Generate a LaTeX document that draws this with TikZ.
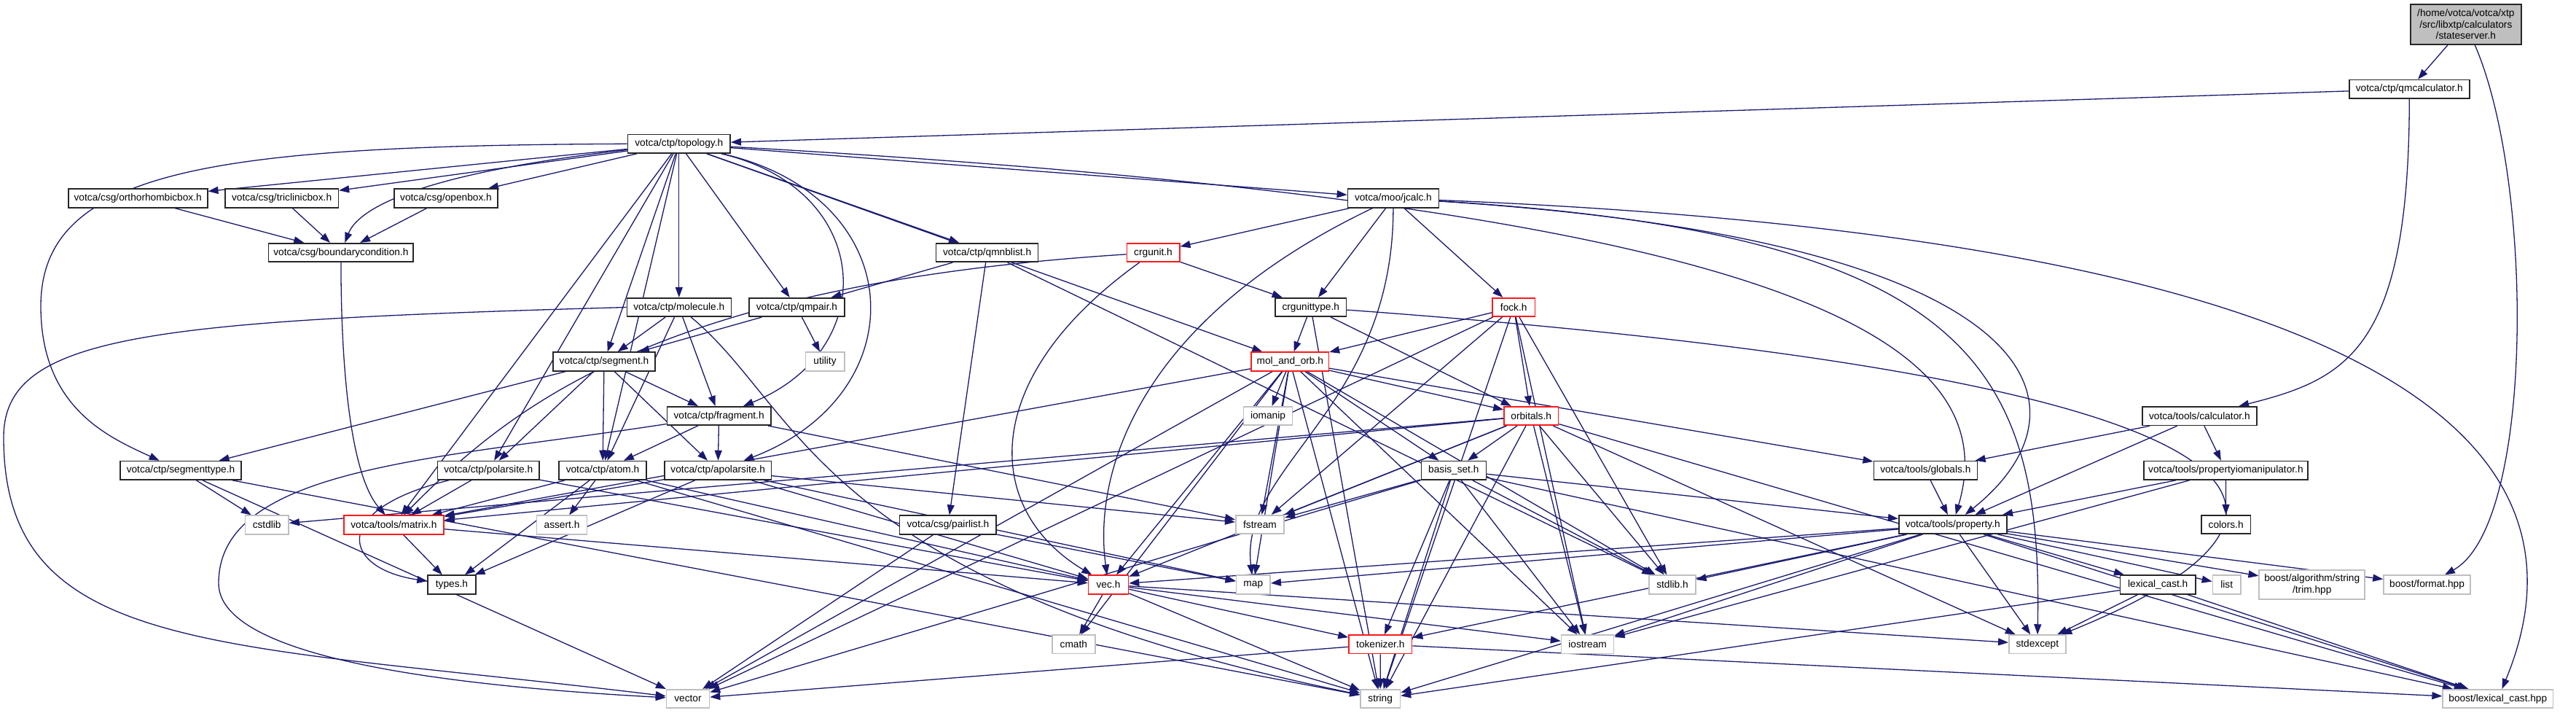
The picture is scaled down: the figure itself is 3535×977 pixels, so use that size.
\documentclass[tikz,border=0pt]{standalone}
\usepackage{fontspec}
\setmainfont{Liberation Sans}
\usetikzlibrary{arrows.meta}
\pgfdeclarelayer{back}
\pgfsetlayers{back,main}

\begin{document}
\begin{tikzpicture}[x=1pt, y=-1pt, >={Stealth[length=14pt,width=10pt,inset=0pt]},
    font=\fontsize{13.7}{15.5}\selectfont,
    hdr/.style={draw=black!85, line width=1.6pt, fill=white, minimum height=25.5pt, inner sep=0pt, minimum width=#1, align=center},
    redhdr/.style={hdr=#1, draw=red!90},
    syshdr/.style={hdr=#1, draw=black!25},
    link/.style={->, draw=linkblue, line width=1.3pt}]
        \definecolor{linkblue}{HTML}{191970}

        \useasboundingbox (0,0) rectangle (3535,977);

        \node[hdr=152pt, minimum height=55pt, fill=black!25] (ss) at (3383.8,33.2) {/home/votca/votca/xtp\\/src/libxtp/calculators\\/stateserver.h};
        \node[hdr=165pt] (qmcalc) at (3306.3,122.3) {votca/ctp/qmcalculator.h};
        \node[hdr=140.6pt] (topo) at (931.8,197.3) {votca/ctp/topology.h};
        \node[hdr=191pt] (ortho) at (189.2,272) {votca/csg/orthorhombicbox.h};
        \node[hdr=155.6pt] (tricl) at (386.6,272) {votca/csg/triclinicbox.h};
        \node[hdr=142.3pt] (openbox) at (612,272) {votca/csg/openbox.h};
        \node[hdr=125pt] (jcalc) at (1911.9,272) {votca/moo/jcalc.h};
        \node[hdr=198.7pt] (bcond) at (467.9,346.5) {votca/csg/boundarycondition.h};
        \node[hdr=140pt] (nblist) at (1354.6,346.5) {votca/ctp/qmnblist.h};
        \node[redhdr=72.4pt] (crgunit) at (1582.5,346.5) {crgunit.h};
        \node[hdr=143pt] (molecule) at (931.8,421.5) {votca/ctp/molecule.h};
        \node[hdr=130.8pt] (qmpair) at (1093.4,421.5) {votca/ctp/qmpair.h};
        \node[hdr=97.5pt] (crgtype) at (1798.7,421.5) {crgunittype.h};
        \node[redhdr=58.5pt] (fock) at (2077.2,421.5) {fock.h};
        \node[hdr=140pt] (segment) at (829,496) {votca/ctp/segment.h};
        \node[syshdr=53.4pt] (utility) at (1132,496) {utility};
        \node[redhdr=106.2pt] (molorb) at (1770.3,496) {mol\_and\_orb.h};
        \node[hdr=142.4pt] (fragment) at (986.6,570.5) {votca/ctp/fragment.h};
        \node[syshdr=67.2pt] (iomanip) at (1740,570.5) {iomanip};
        \node[redhdr=74.6pt] (orbitals) at (2101.2,570.5) {orbitals.h};
        \node[hdr=156.8pt] (calc) at (3018.3,570.7) {votca/tools/calculator.h};
        \node[hdr=166.4pt] (segtype) at (248,645.3) {votca/ctp/segmenttype.h};
        \node[hdr=139.5pt] (polarsite) at (670.2,645.3) {votca/ctp/polarsite.h};
        \node[hdr=120pt] (atom) at (827,645.3) {votca/ctp/atom.h};
        \node[hdr=146.4pt] (apolar) at (985.2,645.3) {votca/ctp/apolarsite.h};
        \node[hdr=89pt] (basisset) at (1994.8,645.3) {basis\_set.h};
        \node[hdr=142pt] (globals) at (2642.3,645.3) {votca/tools/globals.h};
        \node[hdr=225.4pt] (propio) at (3054.4,645.2) {votca/tools/propertyiomanipulator.h};
        \node[syshdr=59.7pt] (cstdlib) at (366.2,720) {cstdlib};
        \node[redhdr=137pt] (matrix) at (540.4,720) {votca/tools/matrix.h};
        \node[syshdr=69pt] (assert) at (771,720) {assert.h};
        \node[hdr=132.6pt] (pairlist) at (1300.9,720) {votca/csg/pairlist.h};
        \node[syshdr=66.5pt] (fstream) at (1729,719.5) {fstream};
        \node[hdr=148pt] (property) at (2679.7,719.5) {votca/tools/property.h};
        \node[hdr=67.7pt] (colors) at (3054.6,719.5) {colors.h};
        \node[hdr=65.8pt] (types) at (620,802) {types.h};
        \node[redhdr=55pt] (vec) at (1521,802) {vec.h};
        \node[syshdr=46.7pt] (map) at (1719.8,802) {map};
        \node[syshdr=63.5pt] (stdlib) at (2295,802) {stdlib.h};
        \node[hdr=103.2pt] (lexcast) at (2961.2,802) {lexical\_cast.h};
        \node[syshdr=38.6pt] (list) at (3055.7,802) {list};
        \node[syshdr=145pt, minimum height=40pt] (trim) at (3172.7,802) {boost/algorithm/string\\/trim.hpp};
        \node[syshdr=119pt] (format) at (3330.5,802) {boost/format.hpp};
        \node[syshdr=59pt] (cmath) at (1473.3,883.8) {cmath};
        \node[redhdr=86.5pt] (tokenizer) at (1894.3,883.8) {tokenizer.h};
        \node[syshdr=72pt] (iostream) at (2178.6,883.8) {iostream};
        \node[syshdr=78pt] (stdexcept) at (2795.8,883.8) {stdexcept};
        \node[syshdr=59pt] (vector) at (944,958.5) {vector};
        \node[syshdr=54.4pt] (string) at (1894.2,958.5) {string};
        \node[syshdr=151.3pt] (lexhpp) at (3427.8,958.5) {boost/lexical\_cast.hpp};

        \begin{pgfonlayer}{back}
        \draw[link] (ss) -- (qmcalc);
        \draw[link] (ss) .. controls (3478,250) and (3478,720) .. (format);

        \draw[link] (qmcalc) -- (topo);
        \draw[link] (qmcalc) .. controls (3306,480) and (3220,520) .. (calc);

        \draw[link] (topo) -- (ortho);
        \draw[link] (topo) -- (tricl);
        \draw[link] (topo) -- (openbox);
        \draw[link] (topo) .. controls (560,240) and (490,290) .. (bcond);
        \draw[link] (topo.west) .. controls (300,200) and (56,230) .. (56,420) .. controls (56,560) and (150,600) .. (segtype);
        \draw[link] (topo) -- (segment);
        \draw[link] (topo) -- (polarsite);
        \draw[link] (topo) -- (atom);
        \draw[link] (topo) -- (matrix);
        \draw[link] (topo) -- (molecule);
        \draw[link] (topo) -- (qmpair);
        \draw[link] (topo) .. controls (1200,260) and (1210,480) .. (fragment);
        \draw[link] (topo) .. controls (1250,270) and (1260,540) .. (apolar);
        \draw[link] (topo) -- (nblist);
        \draw[link] (topo) -- (molorb);
        \draw[link] (topo) -- (jcalc);
        \draw[link] (topo) .. controls (2400,280) and (2760,450) .. (property);

        \draw[link] (ortho) -- (bcond);
        \draw[link] (tricl) -- (bcond);
        \draw[link] (openbox) -- (bcond);
        \draw[link] (bcond) .. controls (468,500) and (480,650) .. (matrix);

        \draw[link] (jcalc) -- (crgunit);
        \draw[link] (jcalc) -- (crgtype);
        \draw[link] (jcalc) -- (fock);
        \draw[link] (jcalc) .. controls (1560,440) and (1500,650) .. (vec);
        \draw[link] (jcalc) .. controls (1912,560) and (1700,640) .. (map);
        \draw[link] (jcalc) .. controls (2820,330) and (2880,560) .. (property);
        \draw[link] (jcalc) .. controls (2700,320) and (2803,500) .. (stdexcept);
        \draw[link] (jcalc) .. controls (3350,330) and (3560,640) .. (lexhpp);

        \draw[link] (crgunit) -- (crgtype);
        \draw[link] (crgunit) .. controls (1340,520) and (1350,700) .. (vec);
        \draw[link] (crgunit) .. controls (900,390) and (700,560) .. (matrix);

        \draw[link] (molecule) -- (segment);
        \draw[link] (molecule) -- (fragment);
        \draw[link] (molecule) -- (atom);
        \draw[link] (molecule) .. controls (1100,560) and (1120,800) .. (string);
        \draw[link] (molecule.west) .. controls (200,440) and (5,460) .. (5,600) .. controls (5,900) and (300,880) .. (vector);

        \draw[link] (qmpair) -- (segment);
        \draw[link] (qmpair) -- (utility);

        \draw[link] (nblist) -- (qmpair);
        \draw[link] (nblist) -- (pairlist);
        \draw[link] (nblist) -- (stdlib);

        \draw[link] (crgtype) -- (molorb);
        \draw[link] (crgtype) -- (orbitals);
        \draw[link] (crgtype) -- (string);
        \draw[link] (crgtype) .. controls (3150,520) and (3250,700) .. (stdexcept);

        \draw[link] (fock) -- (molorb);
        \draw[link] (fock) -- (orbitals);
        \draw[link] (fock) -- (fstream);
        \draw[link] (fock) -- (vector);
        \draw[link] (fock) -- (stdlib);
        \draw[link] (fock) -- (iostream);
        \draw[link] (fock) -- (string);

        \draw[link] (segment) -- (segtype);
        \draw[link] (segment) -- (polarsite);
        \draw[link] (segment) -- (atom);
        \draw[link] (segment) -- (fragment);
        \draw[link] (segment) -- (apolar);

        \draw[link] (molorb) -- (iomanip);
        \draw[link] (molorb) -- (basisset);
        \draw[link] (molorb) -- (orbitals);
        \draw[link] (molorb) -- (globals);
        \draw[link] (molorb) -- (string);
        \draw[link] (molorb) -- (fstream);
        \draw[link] (molorb) -- (vector);
        \draw[link] (molorb) -- (map);
        \draw[link] (molorb) -- (cmath);
        \draw[link] (molorb) -- (vec);
        \draw[link] (molorb) -- (stdlib);
        \draw[link] (molorb) -- (iostream);
        \draw[link] (molorb) -- (matrix);

        \draw[link] (fragment) -- (atom);
        \draw[link] (fragment) -- (apolar);
        \draw[link] (fragment) -- (fstream);
        \draw[link] (fragment) .. controls (600,630) and (300,640) .. (300,800) .. controls (300,900) and (600,940) .. (vector);

        \draw[link] (orbitals) -- (basisset);
        \draw[link] (orbitals) -- (fstream);
        \draw[link] (orbitals) -- (string);
        \draw[link] (orbitals) -- (stdlib);
        \draw[link] (orbitals) -- (iostream);
        \draw[link] (orbitals) -- (stdexcept);
        \draw[link] (orbitals) -- (lexhpp);
        \draw[link] (orbitals) -- (cstdlib);
        \draw[link] (orbitals) -- (matrix);
        \draw[link] (orbitals) -- (vec);

        \draw[link] (calc) -- (globals);
        \draw[link] (calc) -- (property);
        \draw[link] (calc) -- (propio);

        \draw[link] (segtype) -- (cstdlib);
        \draw[link] (segtype) -- (vector);
        \draw[link] (segtype) -- (string);

        \draw[link] (polarsite) -- (matrix);
        \draw[link] (polarsite) .. controls (450,700) and (470,780) .. (types);
        \draw[link] (polarsite) -- (vec);

        \draw[link] (atom) -- (matrix);
        \draw[link] (atom) -- (types);
        \draw[link] (atom) -- (assert);
        \draw[link] (atom) -- (vec);
        \draw[link] (atom) -- (string);

        \draw[link] (apolar) -- (matrix);
        \draw[link] (apolar) -- (types);
        \draw[link] (apolar) -- (vec);
        \draw[link] (apolar) -- (map);
        \draw[link] (apolar) -- (fstream);

        \draw[link] (basisset) -- (fstream);
        \draw[link] (basisset) -- (property);
        \draw[link] (basisset) -- (vector);
        \draw[link] (basisset) -- (tokenizer);
        \draw[link] (basisset) -- (string);
        \draw[link] (basisset) -- (iostream);
        \draw[link] (basisset) -- (stdlib);
        \draw[link] (basisset) -- (lexhpp);

        \draw[link] (globals) -- (property);

        \draw[link] (propio) -- (property);
        \draw[link] (propio) -- (colors);
        \draw[link] (propio) -- (iostream);

        \draw[link] (matrix) -- (types);
        \draw[link] (matrix) -- (vec);

        \draw[link] (pairlist) -- (map);
        \draw[link] (pairlist) -- (vector);

        \draw[link] (property) -- (vec);
        \draw[link] (property) -- (map);
        \draw[link] (property) -- (stdlib);
        \draw[link] (property) -- (iostream);
        \draw[link] (property) -- (tokenizer);
        \draw[link] (property) -- (string);
        \draw[link] (property) -- (stdexcept);
        \draw[link] (property) -- (lexcast);
        \draw[link] (property) -- (list);
        \draw[link] (property) -- (trim);
        \draw[link] (property) -- (format);
        \draw[link] (property) -- (lexhpp);

        \draw[link] (lexcast) -- (stdexcept);
        \draw[link] (lexcast) -- (string);
        \draw[link] (lexcast) -- (lexhpp);

        \draw[link] (vec) -- (cmath);
        \draw[link] (vec) -- (tokenizer);
        \draw[link] (vec) -- (string);
        \draw[link] (vec) -- (iostream);
        \draw[link] (vec) -- (stdexcept);

        \draw[link] (tokenizer) -- (vector);
        \draw[link] (tokenizer) -- (string);
        \draw[link] (tokenizer) -- (lexhpp);
        \end{pgfonlayer}
    \end{tikzpicture}
\end{document}
